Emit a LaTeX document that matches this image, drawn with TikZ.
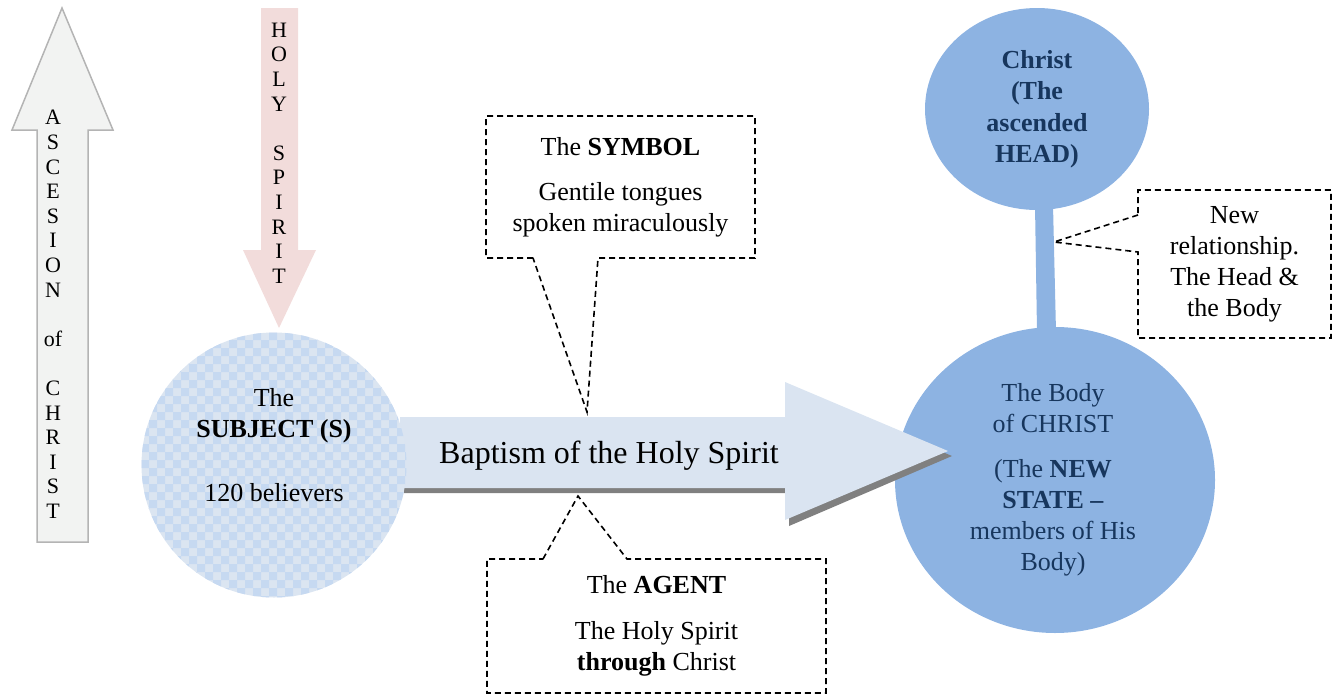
\documentclass[tikz,border=0pt]{standalone}
\usepackage{fontspec}
\setmainfont{Liberation Serif}
\usetikzlibrary{shapes.geometric,positioning,calc}

\definecolor{ascgray}{HTML}{F2F3F2}
\definecolor{ascline}{HTML}{B4B4B4}
\definecolor{spiritpink}{HTML}{F2DCDB}
\definecolor{checklight}{HTML}{DBE5F1}
\definecolor{checkdark}{HTML}{C6D9F1}
\definecolor{arrowblue}{HTML}{DAE4F1}
\definecolor{shadowgray}{HTML}{808080}
\definecolor{headblue}{HTML}{8DB3E2}
\definecolor{navy}{HTML}{17365D}

\begin{document}
\begin{tikzpicture}[x=1pt,y=-1pt,
    every node/.style={inner sep=0pt, outer sep=0pt},
    txt/.style={font=\fontsize{26}{31}\selectfont, align=center},
    letters/.style={font=\fontsize{22}{24.6}\selectfont, align=center},
    callout/.style={draw, line width=1.6pt, dash pattern=on 6pt off 4pt},
    blob/.style={ellipse, fill=headblue, text=navy}]
    \useasboundingbox (0,0) rectangle (1338,696);

    % ascension and holy spirit
    \draw[fill=ascgray, draw=ascline, line width=1.5pt] (37,542) -- (37,130) -- (12,130) -- (62,8) -- (113,130) -- (88,130) -- (88,542) -- cycle;
    \node[letters] (ascend) at (53,314.5) {A\\S\\C\\E\\S\\I\\O\\N\\[24.6pt]of\\[24.6pt]C\\H\\R\\I\\S\\T};
    \fill[spiritpink] (261,8) -- (298,8) -- (298,250) -- (316,250) -- (279,328) -- (243,250) -- (261,250) -- cycle;
    \node[letters] (spirit) at (279,153) {H\\O\\L\\Y\\[24.6pt]S\\P\\I\\R\\I\\T};

    % head and body
    \node[blob, minimum width=320pt, minimum height=306pt] (body) at (1055,480) {};
    \node[blob, minimum width=224pt, minimum height=202pt, font=\fontsize{26}{31.5}\selectfont\bfseries, align=center] (head) at (1037,109) {Christ\\(The\\ascended\\HEAD)};
    \fill[headblue] ([xshift=-2pt,yshift=5pt]head.south) -- ([xshift=16pt,yshift=5pt]head.south) -- ([xshift=1pt,yshift=-5pt]body.north) -- ([xshift=-18pt,yshift=-5pt]body.north) -- cycle;

    % baptism arrow
    \fill[shadowgray] (404,422) -- (789,422) -- (789,387) -- (952,456) -- (789,526) -- (789,493) -- (404,493) -- cycle;
    \fill[arrowblue] (400,417) -- (785,417) -- (785,382) -- (948,451) -- (785,520) -- (785,488) -- (400,488) -- cycle;
    \node[font=\fontsize{32}{38}\selectfont] (baptism) at (609,456) {Baptism of the Holy Spirit};

    % subject
    \begin{scope}
        \clip (274,465) circle (132.5pt);
        \fill[checklight] (140,330) rectangle (410,600);
        \foreach \x in {0,...,16} {
            \foreach \y in {0,...,16} {
                \fill[checkdark] (141+16*\x,332+16*\y) rectangle ++(8,8) rectangle ++(8,8);
            }
        }
    \end{scope}
    \node[circle, minimum size=265pt] (subject) at (274,465) {};
    \node[txt] (subjtext) at ([yshift=20pt]subject.center) {The\\\textbf{SUBJECT (S)}\\[33pt]120 believers};

    \node[txt, text=navy] (bodytext) at ([xshift=-2pt]body.center) {The Body\\of CHRIST\\[14pt](The \textbf{NEW}\\\textbf{STATE –}\\members of His\\Body)};

    % callouts
    \node[txt, minimum width=269pt, minimum height=142pt] (symbol) at (620.5,187) {The \textbf{SYMBOL}\\[14pt]Gentile tongues\\spoken miraculously};
    \coordinate (symtip) at (587,412);
    \draw[callout] ([xshift=47pt]symbol.south west) -- (symbol.south west) -- (symbol.north west) -- (symbol.north east) -- (symbol.south east) -- ([xshift=112pt]symbol.south west) -- (symtip) -- cycle;

    \node[txt, minimum width=339pt, minimum height=134pt] (agent) at (656.5,626) {The \textbf{AGENT}\\[15pt]The Holy Spirit\\\textbf{through} Christ};
    \coordinate (agenttip) at (578,496);
    \draw[callout] ([xshift=56pt]agent.north west) -- (agenttip) -- ([xshift=140pt]agent.north west) -- (agent.north east) -- (agent.south east) -- (agent.south west) -- (agent.north west) -- cycle;

    \node[txt, minimum width=193pt, minimum height=148pt] (rel) at (1234.5,264) {New\\relationship.\\The Head \&\\the Body};
    \coordinate (reltip) at (1054,242);
    \draw[callout] ([yshift=-25pt]rel.north west) -- (reltip) -- ([yshift=-62pt]rel.north west) -- (rel.south west) -- (rel.south east) -- (rel.north east) -- (rel.north west) -- cycle;
\end{tikzpicture}
\end{document}
